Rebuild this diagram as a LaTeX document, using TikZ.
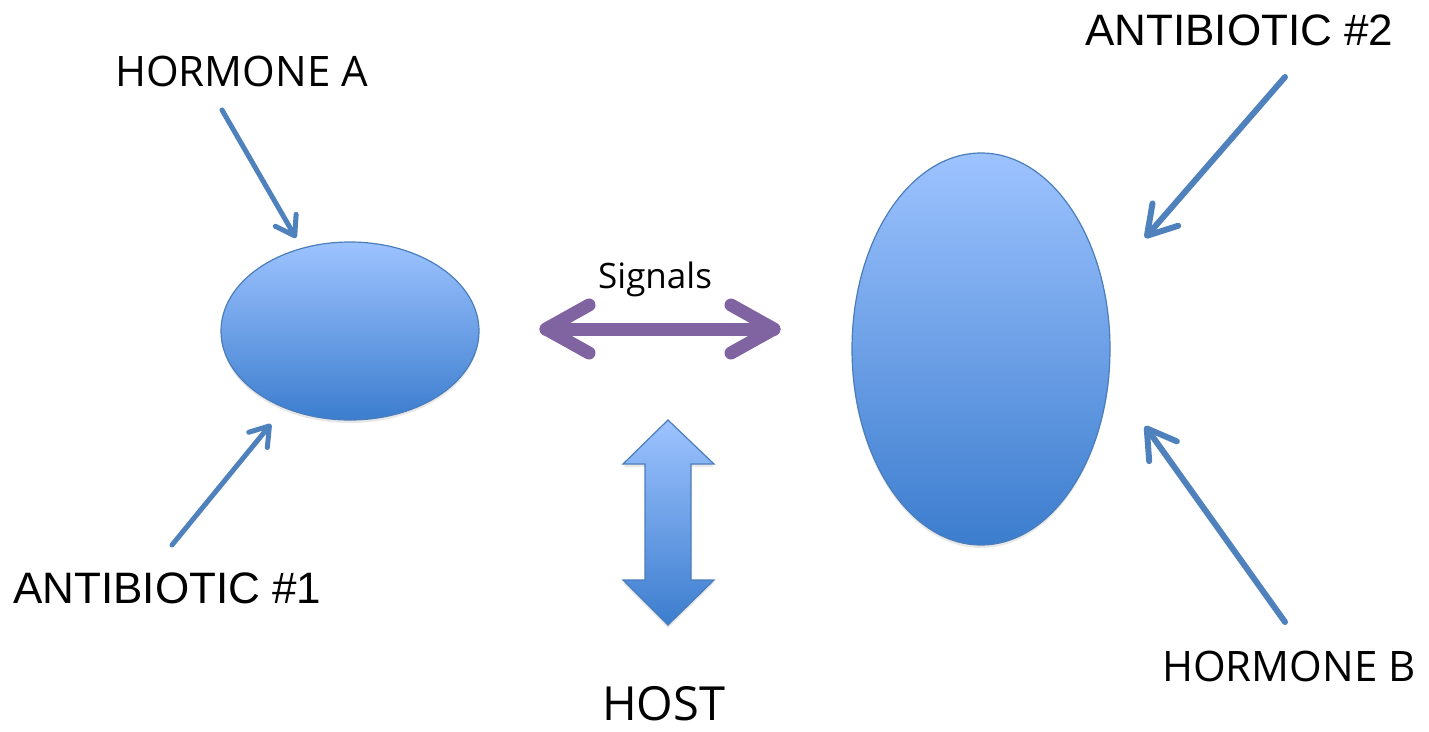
\documentclass[tikz,border=0pt]{standalone}
\usepackage{fontspec}
\setmainfont{Open Sans}
\newfontfamily\narrowfont{Liberation Sans}
\usetikzlibrary{arrows.meta,shadows}
\definecolor{arrowblue}{RGB}{79,129,189}
\definecolor{edgeblue}{RGB}{74,126,187}
\definecolor{sigpurple}{RGB}{128,100,162}
\definecolor{toplight}{RGB}{157,195,255}
\definecolor{botdark}{RGB}{60,125,206}
\tikzset{
  cell/.style={draw=edgeblue, line width=1.2pt, top color=toplight, bottom color=botdark,
    drop shadow={opacity=0.18, shadow xshift=0pt, shadow yshift=-3pt}},
  lbl/.style={inner sep=0pt, anchor=base west, font=\fontsize{42}{46}\selectfont},
  nlbl/.style={inner sep=0pt, anchor=base west, font=\narrowfont\fontsize{44}{48}\selectfont},
  smallarrow/.style={draw=arrowblue, line width=5pt, line cap=round,
    -{Straight Barb[length=18pt,width=24pt,round]}},
  bigarrow/.style={draw=arrowblue, line width=6pt, line cap=round,
    -{Straight Barb[length=28pt,width=34pt,round]}},
  sigline/.style={draw=sigpurple, line width=13pt, line cap=round, line join=round},
}
\begin{document}
\begin{tikzpicture}[x=1pt,y=-1pt]
\useasboundingbox (0,0) rectangle (1429,731);
\fill[white] (0,0) rectangle (1429,731);

% ellipses
\path[cell] (350,331) ellipse [x radius=129, y radius=89];
\path[cell] (981,349) ellipse [x radius=129, y radius=196];

% labels
\node[lbl] (hA) at (115,86) {HORMONE A};
\node[nlbl] (ab1) at (13,603) {ANTIBIOTIC \#1};
\node[nlbl] (ab2) at (1085,45) {ANTIBIOTIC \#2};
\node[lbl] (hB) at (1162,681) {HORMONE B};
\node[lbl, font=\fontsize{47}{50}\selectfont] (host) at (602,720) {HOST};
\node[inner sep=0pt, anchor=base west, font=\fontsize{35}{38}\selectfont] (sig) at (598,288) {Signals};

% thin arrows
\coordinate (a1s) at (222,110); \coordinate (a1e) at (296,238);
\coordinate (a2s) at (172,545); \coordinate (a2e) at (271,424);
\coordinate (a3s) at (1285,77); \coordinate (a3e) at (1145,238);
\coordinate (a4s) at (1285,622); \coordinate (a4e) at (1145,426);
\draw[smallarrow] (a1s) -- (a1e);
\draw[smallarrow] (a2s) -- (a2e);
\draw[bigarrow] (a3s) -- (a3e);
\draw[bigarrow] (a4s) -- (a4e);

% signals double arrow
\coordinate (sl) at (546,329); \coordinate (sr) at (774,329);
\draw[sigline] (sl) -- (sr);
\draw[sigline] (589,305) -- (sl) -- (589,353);
\draw[sigline] (731,305) -- (sr) -- (731,353);

% host block double arrow
\path[cell] (668,420) -- (714,464) -- (691,464) -- (691,580) -- (714,580)
  -- (668,625) -- (623,580) -- (645,580) -- (645,464) -- (623,464) -- cycle;
\end{tikzpicture}
\end{document}
